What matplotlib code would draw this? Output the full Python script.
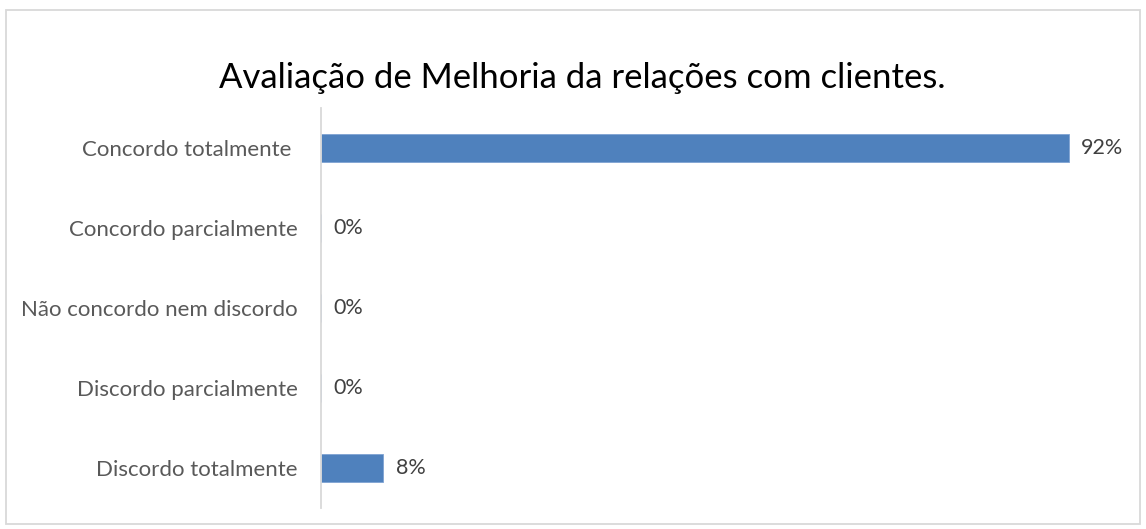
import matplotlib
matplotlib.use("Agg")
import matplotlib.pyplot as plt
from matplotlib.patches import Rectangle

categories = ["Concordo totalmente ", "Concordo parcialmente", "Não concordo nem discordo",
              "Discordo parcialmente", "Discordo totalmente"]
values = [0.923, 0.0, 0.0, 0.0, 0.077]
labels = ["92%", "0%", "0%", "0%", "8%"]
title = "Avaliação de Melhoria da relações com clientes."

W, H = 1146, 529
plt.rcParams['font.family'] = ['Lato', 'DejaVu Sans']
fig = plt.figure(figsize=(W/100, H/100), dpi=100)
fig.patch.set_facecolor('white')
fig.add_artist(Rectangle((6/W, 1-524/H), (1140-6)/W, (524-10)/H, transform=fig.transFigure,
                         fill=False, edgecolor='#D9D9D9', linewidth=1.3))

ax = fig.add_axes([321/W, 1-508/H, (1131-321)/W, 400/H])
y = list(range(len(categories)))
ax.barh(y, values, height=0.35, color='#4F81BD', edgecolor='#7FA3D3', linewidth=0.6)
ax.set_ylim(len(categories)-0.5, -0.5)
ax.set_xlim(0, 1)
ax.set_yticks(y)
ax.set_yticklabels(categories, fontsize=16, color='#595959')
ax.tick_params(axis='y', length=0, pad=17)
ax.set_xticks([])
for s in ['top', 'right', 'bottom']:
    ax.spines[s].set_visible(False)
ax.spines['left'].set_color('#D9D9D9')
ax.spines['left'].set_linewidth(1.3)
for yi, v, lab in zip(y, values, labels):
    ax.annotate(lab, (v, yi), xytext=(9, 0), textcoords='offset points',
                va='center', ha='left', fontsize=15.5, color='#404040')

fig.text(582/W, 1-78/H, title, ha='center', va='center', fontsize=25, color='#000000')
fig.savefig('out.png', dpi=100)
